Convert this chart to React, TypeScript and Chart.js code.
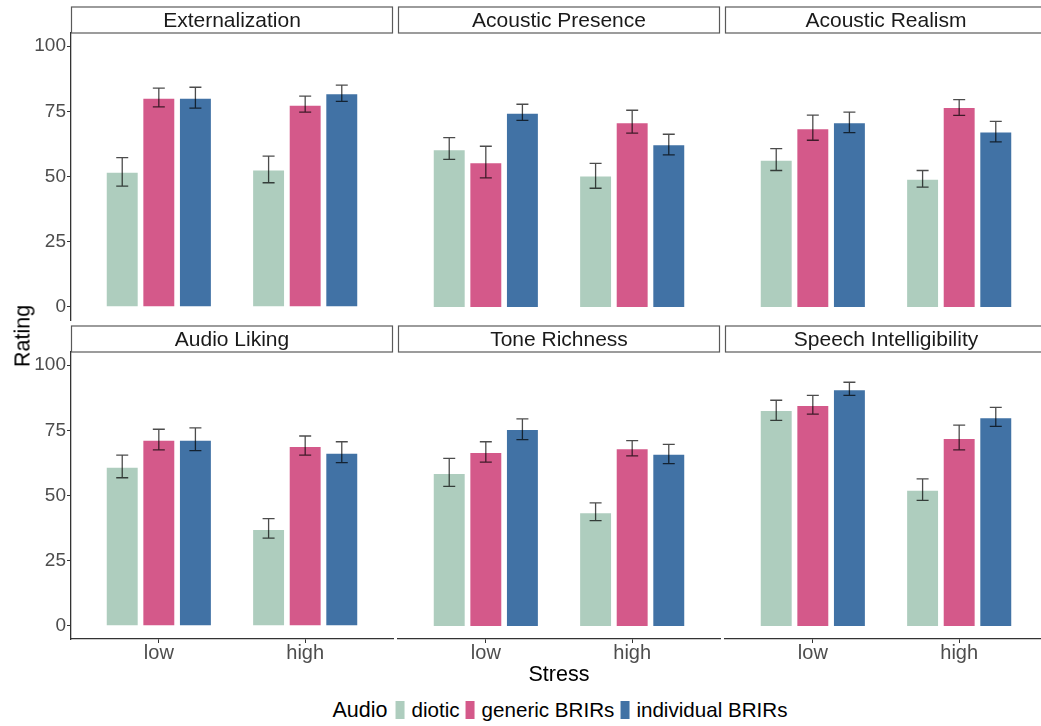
import React, { useEffect, useRef } from "react";
import { Chart, registerables } from "chart.js";

Chart.register(...registerables);

const FACETS = [
  "Externalization",
  "Acoustic Presence",
  "Acoustic Realism",
  "Audio Liking",
  "Tone Richness",
  "Speech Intelligibility",
];
const STRESS = ["low", "high"];
const AUDIO = ["diotic", "generic BRIRs", "individual BRIRs"];
const AUDIO_COLORS = ["#aecdbe", "#d4598a", "#4172a5"];
const Y_TICKS = [0, 25, 50, 75, 100];

// Mean rating per facet, as [low stress, high stress]
const dioticMean = [[51.8, 52.7], [60.4, 50.4], [56.4, 49.1], [61.0, 37.2], [58.6, 43.6], [82.8, 52.2]];
const dioticLower = [[46.3, 47.6], [56.6, 45.5], [52.3, 45.9], [56.8, 33.7], [53.5, 40.4], [78.8, 48.1]];
const dioticUpper = [[57.2, 57.8], [64.9, 55.0], [60.7, 52.3], [65.5, 41.1], [64.2, 47.2], [86.5, 56.4]];

const genericMean = [[80.2, 77.5], [55.5, 70.8], [68.5, 76.6], [71.4, 69.0], [66.7, 68.1], [84.7, 72.0]];
const genericLower = [[76.7, 74.7], [49.5, 66.6], [63.9, 73.4], [67.5, 65.5], [62.8, 65.2], [81.2, 67.5]];
const genericUpper = [[83.9, 80.8], [61.6, 75.4], [73.5, 79.5], [75.4, 72.8], [70.6, 71.0], [88.4, 77.0]];

const individualMean = [[80.2, 81.9], [74.4, 62.4], [70.8, 67.2], [71.4, 66.4], [75.5, 66.0], [90.7, 80.0]];
const individualLower = [[76.2, 78.8], [71.5, 58.3], [66.8, 63.3], [67.2, 62.6], [71.4, 62.2], [88.4, 76.5]];
const individualUpper = [[84.2, 85.0], [77.7, 66.2], [74.7, 71.1], [75.9, 70.6], [79.4, 69.6], [93.4, 83.8]];

const SERIES = [
  { mean: dioticMean, lower: dioticLower, upper: dioticUpper },
  { mean: genericMean, lower: genericLower, upper: genericUpper },
  { mean: individualMean, lower: individualLower, upper: individualUpper },
];

// Facet grid layout (page pixels)
const FONT = "'Liberation Sans', Arial, sans-serif";
const PLOT_LEFT = [71, 398, 725];
const PLOT_TOP = [33, 352];
const PLOT_W = 322;
const PLOT_H = 287;
const Y_AXIS_W = 64;
const X_AXIS_H = 44;
const PAD_TOP = 30;
const PAD_RIGHT = 8;
const STRIP_H = 26.5;

const stripPlugin = {
  id: "strip",
  afterDraw(chart: any, _args: any, opts: any) {
    const { ctx, chartArea } = chart;
    const top = chartArea.top - STRIP_H;
    ctx.save();
    ctx.fillStyle = "#ffffff";
    ctx.strokeStyle = "#5a5a5a";
    ctx.lineWidth = 1.2;
    ctx.fillRect(chartArea.left + 0.5, top + 0.5, chartArea.right - chartArea.left - 1, STRIP_H - 0.5);
    ctx.strokeRect(chartArea.left + 0.5, top + 0.5, chartArea.right - chartArea.left - 1, STRIP_H - 0.5);
    ctx.fillStyle = "#1a1a1a";
    ctx.font = `21px ${FONT}`;
    ctx.textAlign = "center";
    ctx.textBaseline = "middle";
    ctx.fillText(opts.text, (chartArea.left + chartArea.right) / 2, top + STRIP_H / 2 + 1);
    ctx.restore();
  },
};

const errorBarPlugin = {
  id: "errorBars",
  afterDatasetsDraw(chart: any) {
    const { ctx } = chart;
    const y = chart.scales.y;
    chart.data.datasets.forEach((ds: any, i: number) => {
      const meta = chart.getDatasetMeta(i);
      meta.data.forEach((bar: any, j: number) => {
        const lo = y.getPixelForValue(ds.lower[j]);
        const hi = y.getPixelForValue(ds.upper[j]);
        const cap = 6;
        ctx.save();
        ctx.strokeStyle = "rgba(0,0,0,0.7)";
        ctx.lineWidth = 1.3;
        ctx.beginPath();
        ctx.moveTo(bar.x, lo);
        ctx.lineTo(bar.x, hi);
        ctx.moveTo(bar.x - cap, lo);
        ctx.lineTo(bar.x + cap, lo);
        ctx.moveTo(bar.x - cap, hi);
        ctx.lineTo(bar.x + cap, hi);
        ctx.stroke();
        ctx.restore();
      });
    });
  },
};

function Panel({ facet }: { facet: number }) {
  const ref = useRef<HTMLCanvasElement>(null);
  const row = Math.floor(facet / 3);
  const col = facet % 3;
  const width = Y_AXIS_W + PLOT_W + PAD_RIGHT;
  const height = PAD_TOP + PLOT_H + X_AXIS_H;

  useEffect(() => {
    if (!ref.current) return;
    const showX = row === 1;
    const showY = col === 0;
    const chart = new Chart(ref.current, {
      type: "bar",
      data: {
        datasets: AUDIO.map((name, i) => ({
          label: name,
          data: STRESS.map((_s, j) => ({ x: j + 1, y: SERIES[i].mean[facet][j] })),
          lower: SERIES[i].lower[facet],
          upper: SERIES[i].upper[facet],
          backgroundColor: AUDIO_COLORS[i],
          borderColor: "rgba(255,255,255,0.45)",
          borderWidth: 1,
          categoryPercentage: 0.75,
          barPercentage: 0.9,
        })) as any,
      },
      options: {
        responsive: false,
        animation: false,
        devicePixelRatio: 1,
        events: [],
        layout: { padding: { top: PAD_TOP, right: PAD_RIGHT, left: 0, bottom: 0 } },
        plugins: {
          legend: { display: false },
          tooltip: { enabled: false },
          strip: { text: FACETS[facet] },
        } as any,
        scales: {
          x: {
            type: "linear",
            min: 0.4,
            max: 2.6,
            offset: false,
            afterBuildTicks: (s: any) => {
              s.ticks = STRESS.map((_l, i) => ({ value: i + 1 }));
            },
            afterFit: (s: any) => {
              s.height = X_AXIS_H;
            },
            grid: {
              display: showX,
              offset: false,
              drawOnChartArea: false,
              drawTicks: true,
              tickLength: 4,
              tickColor: "#333333",
            },
            border: { display: showX, color: "#333333", width: 1.3 },
            ticks: {
              display: showX,
              callback: (_v: any, i: number) => STRESS[i],
              color: "#4d4d4d",
              font: { family: FONT, size: 20 },
              padding: -2,
              maxRotation: 0,
              autoSkip: false,
            },
          },
          y: {
            type: "linear",
            min: -5,
            max: 105,
            afterBuildTicks: (s: any) => {
              s.ticks = Y_TICKS.map((v) => ({ value: v }));
            },
            afterFit: (s: any) => {
              s.width = Y_AXIS_W;
            },
            grid: {
              display: showY,
              drawOnChartArea: false,
              drawTicks: true,
              tickLength: 4,
              tickColor: "#333333",
            },
            border: { display: showY, color: "#333333", width: 1.3 },
            ticks: {
              display: showY,
              color: "#4d4d4d",
              font: { family: FONT, size: 19 },
              padding: 1,
            },
          },
        } as any,
      },
      plugins: [stripPlugin, errorBarPlugin],
    });
    return () => chart.destroy();
  }, [facet, row, col]);

  return (
    <canvas
      ref={ref}
      width={width}
      height={height}
      style={{
        position: "absolute",
        left: PLOT_LEFT[col] - Y_AXIS_W,
        top: PLOT_TOP[row] - PAD_TOP,
        width,
        height,
      }}
    />
  );
}

export default function App() {
  return (
    <div
      style={{
        position: "fixed",
        left: 0,
        top: 0,
        width: 1041,
        height: 726,
        overflow: "hidden",
        background: "#ffffff",
        fontFamily: FONT,
      }}
    >
      {FACETS.map((_f, i) => (
        <Panel key={i} facet={i} />
      ))}
      <div
        style={{
          position: "absolute",
          left: 23,
          top: 336,
          transform: "translate(-50%, -50%) rotate(-90deg)",
          fontSize: 21.5,
          color: "#000",
          whiteSpace: "nowrap",
        }}
      >
        Rating
      </div>
      <div
        style={{
          position: "absolute",
          left: 559,
          top: 674,
          transform: "translate(-50%, -50%)",
          fontSize: 21.5,
          color: "#000",
          whiteSpace: "nowrap",
        }}
      >
        Stress
      </div>
      <div
        style={{
          position: "absolute",
          left: 560,
          top: 710,
          transform: "translate(-50%, -50%)",
          display: "flex",
          alignItems: "baseline",
          whiteSpace: "nowrap",
          color: "#000",
          lineHeight: "24px",
        }}
      >
        <span style={{ fontSize: 21.5, marginRight: 8 }}>Audio</span>
        {AUDIO.map((name, i) => (
          <React.Fragment key={name}>
            <span
              style={{
                display: "inline-block",
                width: 9,
                height: 18,
                background: AUDIO_COLORS[i],
                marginRight: 7,
                alignSelf: "center",
              }}
            />
            <span style={{ fontSize: 20.6, marginRight: i < AUDIO.length - 1 ? 6 : 0 }}>{name}</span>
          </React.Fragment>
        ))}
      </div>
    </div>
  );
}
